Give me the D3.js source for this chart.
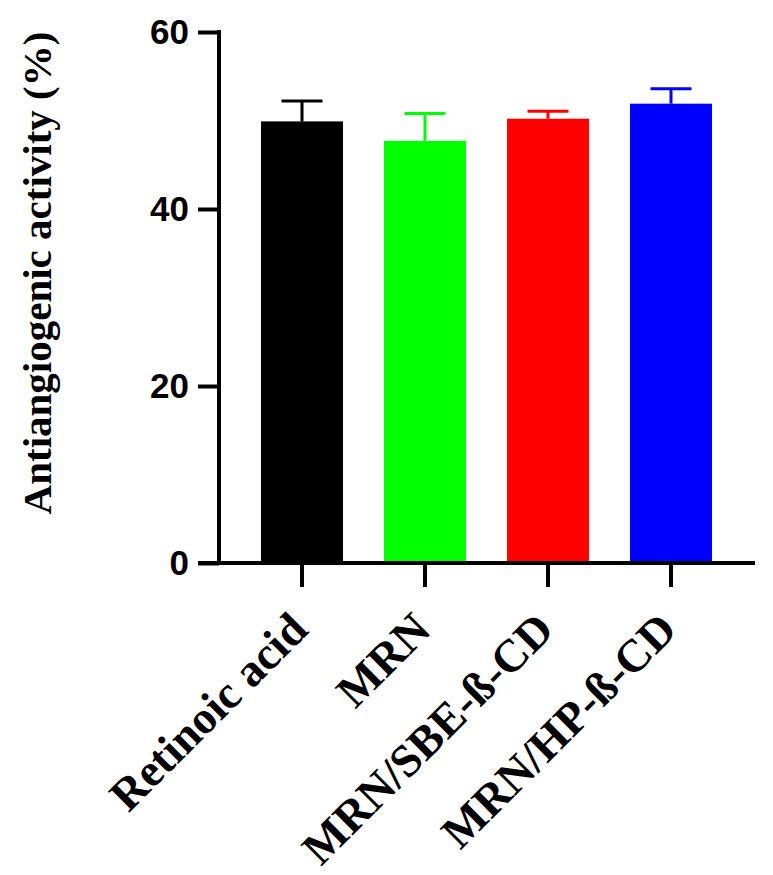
<!DOCTYPE html>
<html>
<head>
<meta charset="utf-8">
<script src="https://cdn.jsdelivr.net/npm/d3@7"></script>
<style>
  html, body { margin: 0; padding: 0; background: #fff; }
  svg { display: block; }
</style>
</head>
<body>
<div id="container"></div>
<script>
// data
const categories = ['Retinoic acid', 'MRN', 'MRN/SBE-ß-CD', 'MRN/HP-ß-CD'];
const means = [49.9, 47.7, 50.2, 51.9];
const errors = [2.3, 3.1, 0.85, 1.7];
const barColors = ['#000000', '#00ff00', '#ff0000', '#0000ff'];
const yTicks = [0, 20, 40, 60];
const yTitle = 'Antiangiogenic activity (%)';

const width = 773;
const height = 875;

const svg = d3.select('#container')
  .append('svg')
  .attr('width', width)
  .attr('height', height);

const y = d3.scaleLinear().domain([0, 60]).range([563, 32]);
const x = d3.scaleBand()
  .domain(categories)
  .range([240.5, 732.5])
  .paddingInner(0.333)
  .paddingOuter(0.1665);

const rows = categories.map((c, i) => ({ name: c, mean: means[i], err: errors[i], color: barColors[i] }));

// bars
svg.append('g')
  .selectAll('rect')
  .data(rows)
  .join('rect')
  .attr('x', d => x(d.name))
  .attr('y', d => y(d.mean))
  .attr('width', x.bandwidth())
  .attr('height', d => y(0) - y(d.mean))
  .attr('fill', d => d.color);

// error bars (upper only)
const eb = svg.append('g')
  .selectAll('g')
  .data(rows)
  .join('g')
  .attr('stroke', d => d.color)
  .attr('stroke-width', 3);
eb.append('line')
  .attr('x1', d => x(d.name) + x.bandwidth() / 2)
  .attr('x2', d => x(d.name) + x.bandwidth() / 2)
  .attr('y1', d => y(d.mean))
  .attr('y2', d => y(d.mean + d.err));
eb.append('line')
  .attr('x1', d => x(d.name) + x.bandwidth() / 4)
  .attr('x2', d => x(d.name) + x.bandwidth() * 3 / 4)
  .attr('y1', d => y(d.mean + d.err))
  .attr('y2', d => y(d.mean + d.err));

// y axis
const yAxis = svg.append('g')
  .attr('transform', 'translate(219,0)')
  .call(d3.axisLeft(y).tickValues(yTicks).tickSize(21).tickPadding(9).tickSizeOuter(0));
yAxis.select('.domain').attr('stroke', '#000').attr('stroke-width', 4)
  .attr('d', `M0,${y(60) - 2}V${y(0) + 2}`);
yAxis.selectAll('.tick line').attr('stroke', '#000').attr('stroke-width', 4);
yAxis.selectAll('.tick text')
  .attr('font-family', '"Liberation Sans", Arial, sans-serif')
  .attr('font-weight', 'bold')
  .attr('font-size', 35)
  .attr('fill', '#000');

// x axis
const xAxis = svg.append('g')
  .attr('transform', `translate(0,${y(0)})`)
  .call(d3.axisBottom(x).tickSize(24).tickSizeOuter(0).tickFormat(''));
xAxis.select('.domain').attr('stroke', '#000').attr('stroke-width', 4)
  .attr('d', 'M198,0H755');
xAxis.selectAll('.tick line').attr('stroke', '#000').attr('stroke-width', 4);

// rotated category labels
svg.append('g')
  .selectAll('text')
  .data(categories)
  .join('text')
  .attr('transform', d => `translate(${x(d) + x.bandwidth() / 2 + 8},632) rotate(-45)`)
  .attr('text-anchor', 'end')
  .attr('font-family', '"Liberation Serif", "Times New Roman", serif')
  .attr('font-weight', 'bold')
  .attr('font-size', 46)
  .attr('fill', '#000')
  .text(d => d);

// y title
svg.append('text')
  .attr('transform', 'translate(51,273) rotate(-90)')
  .attr('text-anchor', 'middle')
  .attr('font-family', '"Liberation Serif", "Times New Roman", serif')
  .attr('font-weight', 'bold')
  .attr('font-size', 41)
  .attr('fill', '#000')
  .text(yTitle);
</script>
</body>
</html>
